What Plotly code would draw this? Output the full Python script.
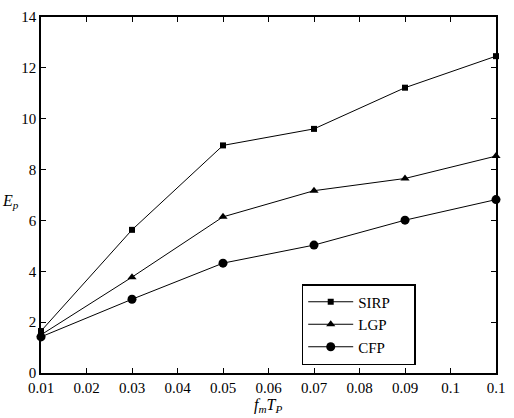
import plotly.graph_objects as go

x_vals = [0.01, 0.03, 0.05, 0.07, 0.09, 0.11]
sirp = [1.65, 5.63, 8.95, 9.6, 11.22, 12.46]
lgp = [1.5, 3.77, 6.14, 7.17, 7.65, 8.53]
cfp = [1.42, 2.9, 4.32, 5.03, 6.01, 6.82]
x_tickvals = [0.01, 0.02, 0.03, 0.04, 0.05, 0.06, 0.07, 0.08, 0.09, 0.10, 0.11]
x_ticktext = ["0.01", "0.02", "0.03", "0.04", "0.05", "0.06", "0.07", "0.08", "0.09", "0.1", "0.1"]
y_tickvals = [0, 2, 4, 6, 8, 10, 12, 14]
names = ["SIRP", "LGP", "CFP"]

FONT = "Liberation Serif"
PAD = "&nbsp;" * 5

fig = go.Figure()
series = [(names[0], sirp, "square", 6), (names[1], lgp, "triangle-up", 8), (names[2], cfp, "circle", 9)]
for name, ys, sym, sz in series:
    fig.add_trace(go.Scatter(
        x=x_vals, y=ys, name=name + PAD, mode="lines+markers",
        line=dict(color="black", width=1),
        marker=dict(symbol=sym, size=sz, color="black"),
        cliponaxis=False,
    ))

axis_common = dict(
    showline=True, linecolor="black", linewidth=1.5, mirror="ticks",
    ticks="inside", ticklen=5, tickcolor="black", tickwidth=1,
    showgrid=False, zeroline=False,
    tickfont=dict(family=FONT, size=15, color="black"),
)

fig.update_layout(
    width=514, height=418,
    margin=dict(l=41, r=12, t=9, b=45),
    paper_bgcolor="white", plot_bgcolor="white",
    font=dict(family=FONT, size=15, color="black"),
    xaxis=dict(range=[0.01, 0.11], tickvals=x_tickvals, ticktext=x_ticktext, **axis_common),
    yaxis=dict(range=[0, 14], tickvals=y_tickvals, **axis_common),
    legend=dict(
        x=0.573, y=0.25, xanchor="left", yanchor="top",
        bordercolor="black", borderwidth=1.5, bgcolor="white",
        font=dict(family=FONT, size=15, color="black"),
        tracegroupgap=0, itemwidth=45,
    ),
    showlegend=True,
    annotations=[
        dict(text="<i>E</i><sub><i>p</i></sub>", xref="paper", yref="paper",
             x=-0.067, y=0.483, showarrow=False, xanchor="center", yanchor="middle",
             font=dict(family=FONT, size=16, color="black")),
        dict(text="<i>f</i><sub><i>m</i></sub><i>T</i><sub><i>P</i></sub>", xref="paper", yref="paper",
             x=0.499, y=-0.09, showarrow=False, xanchor="center", yanchor="middle",
             font=dict(family=FONT, size=16, color="black")),
    ],
)

fig.write_html("out.html")
